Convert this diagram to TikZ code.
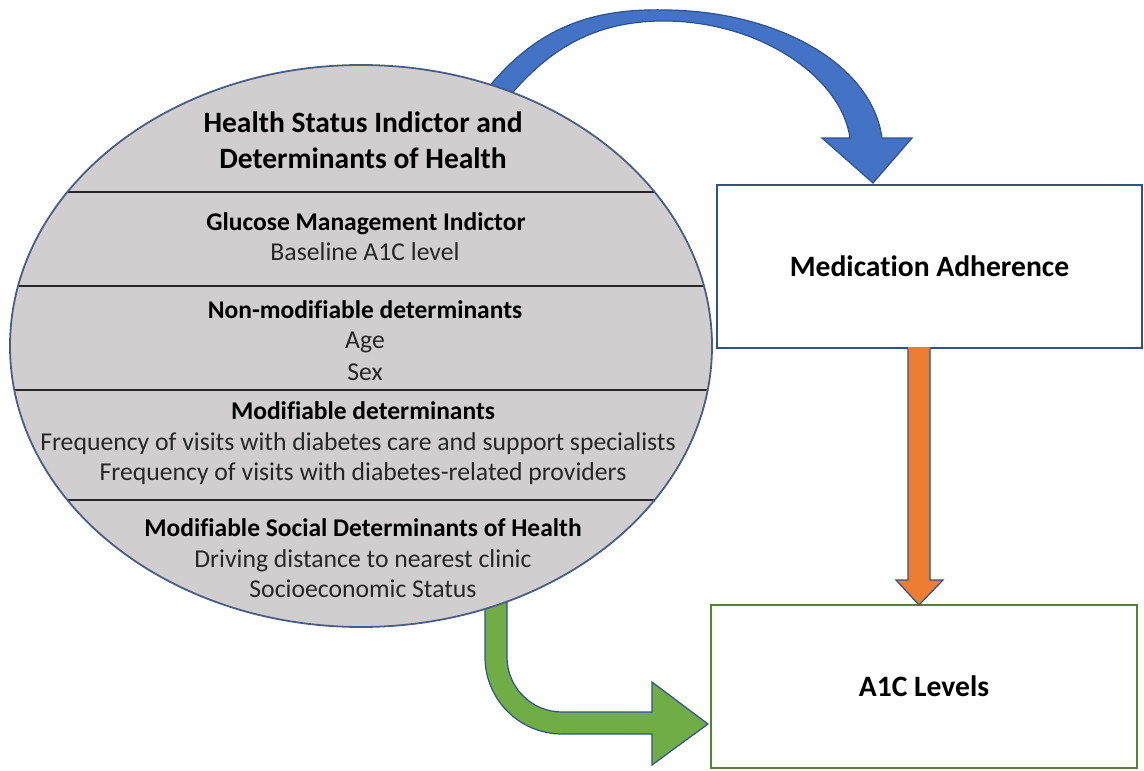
\documentclass[tikz,border=0pt]{standalone}
\usepackage{fontspec}
\setmainfont{Carlito}[Ligatures=NoCommon]
\usetikzlibrary{shapes.geometric}
\definecolor{ellfill}{HTML}{D0CECE}
\definecolor{ellline}{HTML}{4A5D85}
\definecolor{txt}{HTML}{262626}
\definecolor{bluefill}{HTML}{4472C4}
\definecolor{blueline}{HTML}{2F528F}
\definecolor{orangefill}{HTML}{ED7D31}
\definecolor{greenfill}{HTML}{70AD47}
\definecolor{greenline}{HTML}{548235}
\tikzset{
  bodytxt/.style={anchor=base, inner sep=0pt, text=txt, font=\fontsize{25.7}{30}\selectfont},
  headtxt/.style={anchor=base, inner sep=0pt, text=black, font=\fontsize{25.5}{30}\selectfont\bfseries},
  titletxt/.style={anchor=base, inner sep=0pt, text=black, font=\fontsize{29.5}{34}\selectfont\bfseries},
  boxnode/.style={rectangle, fill=white, line width=2.5pt, inner sep=0pt, text=black, font=\fontsize{29.6}{34}\selectfont\bfseries},
  blockarrow/.style={line width=1.2pt, draw=blueline, line join=miter},
  divider/.style={line width=2pt, draw=black!85}
}
\begin{document}
\begin{tikzpicture}[x=1pt,y=-1pt]
\useasboundingbox (0,0) rectangle (1144,771);

% boxes
\node[boxnode, draw=blueline, minimum width=425pt, minimum height=163pt] (med) at (929.5,266.5) {Medication Adherence};
\node[boxnode, draw=greenline, minimum width=426pt, minimum height=163pt] (a1c) at (924,686.5) {A1C Levels};

% orange arrow (med -> a1c)
\coordinate (oa) at (919,348);
\coordinate (ob) at (919,605);
\fill[orangefill] (908,347) -- (908,580) -- (896,580) -- (ob) -- (943,580) -- (930,580) -- (930,347) -- cycle;
\draw[blockarrow] (908,349) -- (908,580) -- (896,580) -- (ob) -- (943,580) -- (930,580) -- (930,349);

% blue curved arrow (hs -> med)
\coordinate (btip) at (873,183);
\path[blockarrow, fill=bluefill]
  (481,97) .. controls (535,25) and (595,8) .. (668,10)
  .. controls (780,12) and (872,65) .. (882,138)
  -- (912,138) -- (btip) -- (822,138) -- (850,138)
  .. controls (842,80) and (765,23) .. (668,21)
  .. controls (600,20) and (550,45) .. (504,103) -- cycle;

% green arrow (hs -> a1c)
\coordinate (gtip) at (708,724);
\path[blockarrow, fill=greenfill]
  (485,585) -- (485,657) .. controls (485,699.5) and (519.5,734) .. (562,734)
  -- (652,734) -- (652,765) -- (gtip) -- (652,682) -- (652,712) -- (562,712)
  .. controls (531.6,712) and (507,687.4) .. (507,657) -- (507,585) -- cycle;

% ellipse
\node[ellipse, draw=ellline, fill=ellfill, line width=1.8pt, minimum width=702pt, minimum height=562pt, inner sep=0pt] (hs) at (361,346) {};

\begin{scope}
\clip (hs.center) ellipse [x radius=350pt, y radius=280pt];
\draw[divider] (0,192) -- (730,192);
\draw[divider] (0,286) -- (730,286);
\draw[divider] (0,390) -- (730,390);
\draw[divider] (0,500) -- (730,500);
\end{scope}

% texts
\node[titletxt] (t1) at (363,132.7) {Health Status Indictor and};
\node[titletxt] (t2) at (363,168.2) {Determinants of Health};
\node[headtxt] (t3) at (366,230.5) {Glucose Management Indictor};
\node[bodytxt] (t4) at (365,260.5) {Baseline A1C level};
\node[headtxt] (t5) at (365,318.5) {Non-modifiable determinants};
\node[bodytxt] (t6) at (365,348.5) {Age};
\node[bodytxt] (t7) at (365,380.5) {Sex};
\node[headtxt] (t8) at (363,419) {Modifiable determinants};
\node[bodytxt] (t9) at (358,450.5) {Frequency of visits with diabetes care and support specialists};
\node[bodytxt] (t10) at (363,480.5) {Frequency of visits with diabetes-related providers};
\node[headtxt] (t11) at (363,536.5) {Modifiable Social Determinants of Health};
\node[bodytxt] (t12) at (363,567.5) {Driving distance to nearest clinic};
\node[bodytxt] (t13) at (363,597.5) {Socioeconomic Status};
\end{tikzpicture}
\end{document}
